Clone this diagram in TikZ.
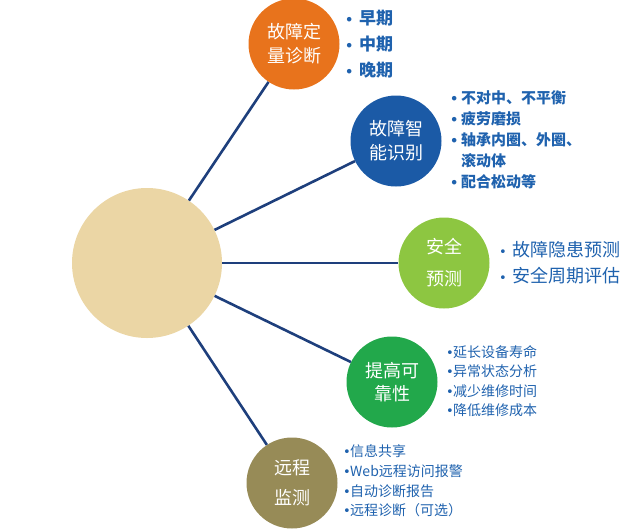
\documentclass[tikz,border=0pt]{standalone}
\usepackage{fontspec}
\newfontfamily\cjk{Noto Sans CJK SC}
\newfontfamily\dejavu{DejaVu Sans}
\usetikzlibrary{positioning}

\definecolor{sand}{HTML}{EBD6A5}
\definecolor{spokeblue}{HTML}{1E3F7C}
\definecolor{itemblue}{HTML}{1F62AE}
\definecolor{qorange}{HTML}{E8731C}
\definecolor{qblue}{HTML}{1B5AA6}
\definecolor{qlime}{HTML}{8DC641}
\definecolor{qgreen}{HTML}{22A84B}
\definecolor{qolive}{HTML}{978B57}

\newcommand{\blt}[1]{\makebox[#1][l]{\dejavu\fontsize{13}{13}\selectfont •}}

\tikzset{
  hub/.style={circle, fill=sand, minimum size=150pt, inner sep=0pt},
  topic/.style={circle, minimum size=91pt, inner sep=0pt, text=white, align=center},
  spoke/.style={spokeblue, line width=2.6pt},
  items/.style={anchor=west, inner sep=0pt, text=itemblue, align=left}
}

\begin{document}
\begin{tikzpicture}[x=1pt, y=-1pt, font=\cjk]

  \useasboundingbox (0,0) rectangle (640,528);

  \node (H) [hub] at (147,263) {};

  \node (Q1) [topic, fill=qorange, font=\cjk\fontsize{18}{24}\selectfont] at (294,44) {故障定\\量诊断};
  \node (Q2) [topic, fill=qblue, font=\cjk\fontsize{18}{24}\selectfont] at (396,141) {故障智\\能识别};
  \node (Q3) [topic, fill=qlime, font=\cjk\fontsize{18}{32}\selectfont] at (444,263) {安全\\预测};
  \node (Q4) [topic, fill=qgreen, font=\cjk\fontsize{18}{23}\selectfont] at (392,382) {提高可\\靠性};
  \node (Q5) [topic, fill=qolive, font=\cjk\fontsize{18}{30}\selectfont] at (292,483) {远程\\监测};

  \node (L1) [items, font=\cjk\bfseries\fontsize{17}{26}\selectfont] at (345,44)
    {\blt{14pt}早期\\\blt{14pt}中期\\\blt{14pt}晚期};
  \node (L2) [items, font=\cjk\bfseries\fontsize{15}{21}\selectfont] at (450,140)
    {\blt{11pt}不对中、不平衡\\\blt{11pt}疲劳磨损\\\blt{11pt}轴承内圈、外圈、\\\makebox[11pt]{}滚动体\\\blt{11pt}配合松动等};
  \node (L3) [items, font=\cjk\fontsize{18}{26}\selectfont] at (499,263)
    {\blt{13pt}故障隐患预测\\\blt{13pt}安全周期评估};
  \node (L4) [items, font=\cjk\fontsize{14}{19.3}\selectfont] at (446,381)
    {\blt{7pt}延长设备寿命\\\blt{7pt}异常状态分析\\\blt{7pt}减少维修时间\\\blt{7pt}降低维修成本};
  \node (L5) [items, font=\cjk\fontsize{14}{19.7}\selectfont] at (343,481)
    {\blt{7pt}信息共享\\\blt{7pt}Web远程访问报警\\\blt{7pt}自动诊断报告\\\blt{7pt}远程诊断（可选）};

  \draw [spoke] (H) -- (Q1);
  \draw [spoke] (H) -- (Q2);
  \draw [spoke] (H) -- (Q3);
  \draw [spoke] (H) -- (Q4);
  \draw [spoke] (H) -- (Q5);

\end{tikzpicture}
\end{document}
